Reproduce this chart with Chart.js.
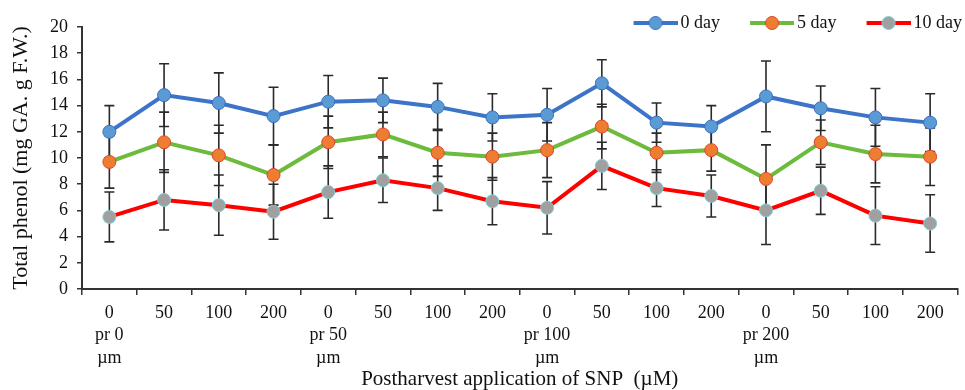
<!DOCTYPE html>
<html>
<head>
<meta charset="utf-8">
<script src="https://cdn.jsdelivr.net/npm/chart.js@4.4.0/dist/chart.umd.min.js"></script>
<style>
  html, body { margin: 0; padding: 0; background: #fff; }
</style>
</head>
<body>
<canvas id="chart" width="965" height="390"></canvas>
<script>
// categories (SNP dose, grouped by pre-harvest treatment)
const categories = [
  ['0', 'pr 0', 'µm'], '50', '100', '200',
  ['0', 'pr 50', 'µm'], '50', '100', '200',
  ['0', 'pr 100', 'µm'], '50', '100', '200',
  ['0', 'pr 200', 'µm'], '50', '100', '200'
];
const seriesNames = ['0 day', '5 day', '10 day'];

const day0 = [12.0, 14.8, 14.2, 13.2, 14.3, 14.4, 13.9, 13.1, 13.3, 15.7, 12.7, 12.4, 14.7, 13.8, 13.1, 12.7];
const day5 = [9.7, 11.2, 10.2, 8.7, 11.2, 11.8, 10.4, 10.1, 10.6, 12.4, 10.4, 10.6, 8.4, 11.2, 10.3, 10.1];
const day10 = [5.5, 6.8, 6.4, 5.9, 7.4, 8.3, 7.7, 6.7, 6.2, 9.4, 7.7, 7.1, 6.0, 7.5, 5.6, 5.0];

// standard errors
const day0Err = [2.0, 2.4, 2.3, 2.2, 2.0, 1.7, 1.8, 1.8, 2.0, 1.8, 1.5, 1.6, 2.7, 1.7, 2.2, 2.2];
const day5Err = [2.0, 2.3, 2.3, 2.3, 2.0, 1.7, 1.8, 1.8, 2.1, 1.7, 1.5, 1.6, 2.6, 1.7, 2.2, 2.2];
const day10Err = [1.9, 2.3, 2.3, 2.1, 2.0, 1.7, 1.7, 1.8, 2.0, 1.8, 1.4, 1.6, 2.6, 1.8, 2.2, 2.2];

const yTicks = [0, 2, 4, 6, 8, 10, 12, 14, 16, 18, 20];

const FONT = "'Liberation Serif', 'Times New Roman', serif";

// legend swatch: line with a marker on it (drawn right of centre so it sits next to the text)
function makeSwatch(lineColor, fill, border) {
    const c = document.createElement('canvas');
    c.width = 77;
    c.height = 16;
    const g = c.getContext('2d');
    g.strokeStyle = lineColor;
    g.lineWidth = 4;
    g.beginPath();
    g.moveTo(33, 8);
    g.lineTo(77, 8);
    g.stroke();
    g.fillStyle = fill;
    g.strokeStyle = border;
    g.lineWidth = 1;
    g.beginPath();
    g.arc(55, 8, 6.5, 0, Math.PI * 2);
    g.fill();
    g.stroke();
    return c;
}

// error bars drawn under the lines
const errorBars = {
    id: 'errorBars',
    beforeDatasetsDraw(chart) {
        const { ctx, scales: { y } } = chart;
        ctx.save();
        ctx.strokeStyle = '#2a2a2a';
        ctx.lineWidth = 1.6;
        chart.data.datasets.forEach((ds, i) => {
            const meta = chart.getDatasetMeta(i);
            meta.data.forEach((pt, j) => {
                const v = ds.data[j];
                const e = ds.errors[j];
                const top = y.getPixelForValue(v + e);
                const bot = y.getPixelForValue(v - e);
                const x = pt.x;
                ctx.beginPath();
                ctx.moveTo(x, top); ctx.lineTo(x, bot);
                ctx.moveTo(x - 5, top); ctx.lineTo(x + 5, top);
                ctx.moveTo(x - 5, bot); ctx.lineTo(x + 5, bot);
                ctx.stroke();
            });
        });
        ctx.restore();
    }
};

// keep the plot top at y=27, but don't clip the legend text
const legendHeight = {
    id: 'legendHeight',
    beforeInit(chart) {
        const orig = chart.legend.fit;
        chart.legend.fit = function () {
            orig.call(this);
            this.height = 27;
        };
    },
    afterLayout(chart) {
        chart.legend.bottom = chart.legend.top + 45;
    }
};

const styles = [
    { line: '#3d74c8', fill: '#5b9bd5', border: '#3b6fc0', errors: day0Err, data: day0 },
    { line: '#6cbb3c', fill: '#ed7d31', border: '#e0442a', errors: day5Err, data: day5 },
    { line: '#ff0000', fill: '#a0a0a0', border: '#7ccfd2', errors: day10Err, data: day10 }
];

const datasets = styles.map((s, i) => ({
    label: seriesNames[i],
    data: s.data,
    errors: s.errors,
    borderColor: s.line,
    borderWidth: 4,
    backgroundColor: s.fill,
    pointBackgroundColor: s.fill,
    pointBorderColor: s.border,
    pointBorderWidth: 1,
    pointRadius: 6.5,
    tension: 0,
    swatch: makeSwatch(s.line, s.fill, s.border)
}));

new Chart(document.getElementById('chart'), {
    type: 'line',
    data: { labels: categories, datasets: datasets },
    options: {
        responsive: false,
        animation: false,
        devicePixelRatio: 1,
        layout: { padding: { left: 0, right: 0, top: 0, bottom: 0 } },
        plugins: {
            legend: {
                position: 'top',
                align: 'end',
                title: {
                    display: true,
                    text: '',
                    font: { size: 1, lineHeight: 1 },
                    padding: { top: 0, bottom: 10 }
                },
                labels: {
                    usePointStyle: true,
                    pointStyleWidth: 65,
                    padding: 3,
                    color: '#111',
                    font: { family: FONT, size: 18 },
                    generateLabels(chart) {
                        return chart.data.datasets.map((ds, i) => ({
                            text: ds.label,
                            pointStyle: ds.swatch,
                            fillStyle: ds.backgroundColor,
                            strokeStyle: ds.borderColor,
                            lineWidth: 0,
                            hidden: false,
                            datasetIndex: i,
                            fontColor: '#111'
                        }));
                    }
                }
            },
            tooltip: { enabled: false }
        },
        scales: {
            x: {
                offset: true,
                grid: {
                    display: true,
                    offset: true,
                    drawOnChartArea: false,
                    drawTicks: true,
                    tickLength: 6,
                    color: '#333',
                    lineWidth: 1.5
                },
                border: { display: true, color: '#333', width: 2 },
                ticks: {
                    color: '#111',
                    padding: 7,
                    maxRotation: 0,
                    autoSkip: false,
                    font: { family: FONT, size: 18, lineHeight: 1.25 }
                },
                title: {
                    display: true,
                    text: 'Postharvest application of SNP  (µM)',
                    color: '#111',
                    padding: { top: 0, bottom: 0 },
                    font: { family: FONT, size: 21, lineHeight: 1.0 }
                },
                afterFit(scale) { scale.height = 101; }
            },
            y: {
                min: 0,
                max: 20,
                afterBuildTicks(scale) {
                    scale.ticks = yTicks.map(v => ({ value: v }));
                },
                grid: {
                    display: true,
                    drawOnChartArea: false,
                    drawTicks: true,
                    tickLength: 5,
                    color: '#333',
                    lineWidth: 1.5
                },
                border: { display: true, color: '#333', width: 2 },
                ticks: {
                    color: '#111',
                    padding: 9,
                    font: { family: FONT, size: 18 }
                },
                title: {
                    display: true,
                    text: 'Total phenol (mg GA. g F.W.)',
                    color: '#111',
                    padding: { top: 8, bottom: 2 },
                    font: { family: FONT, size: 22, lineHeight: 1.2 }
                },
                afterFit(scale) { scale.width = 82; }
            }
        }
    },
    plugins: [errorBars, legendHeight]
});
</script>
</body>
</html>
